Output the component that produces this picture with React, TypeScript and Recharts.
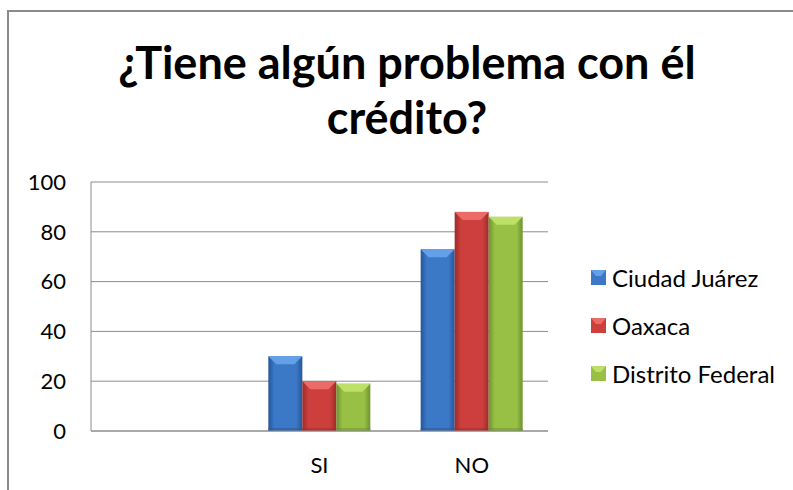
import { BarChart, Bar, XAxis, YAxis, CartesianGrid } from 'recharts'

const categories = ['', 'SI', 'NO']
const ciudadJuarez = [null, 30, 73]
const oaxaca = [null, 20, 88]
const distritoFederal = [null, 19, 86]
const yTicks = [0, 20, 40, 60, 80, 100]

const series = [
  { key: 'ciudadJuarez', name: 'Ciudad Juárez', base: '#3b78c6', dark: '#25569a', light: '#64a0ea' },
  { key: 'oaxaca', name: 'Oaxaca', base: '#cc3f3c', dark: '#9c2b29', light: '#ea6b68' },
  { key: 'distritoFederal', name: 'Distrito Federal', base: '#98c044', dark: '#6f9230', light: '#bde068' },
]

const data = categories.map((c, i) => ({
  name: c,
  ciudadJuarez: ciudadJuarez[i],
  oaxaca: oaxaca[i],
  distritoFederal: distritoFederal[i],
}))

const FONT = 'Lato, "Noto Sans", sans-serif'

const bevelShape = (s) => (props) => {
  const { x, y, width, height } = props
  if (!height || height <= 0) return null
  const b = Math.min(8, width / 4, height / 2)
  const id = 'g-' + s.key
  return (
    <g>
      <defs>
        <linearGradient id={id} x1="0" y1="0" x2="1" y2="0">
          <stop offset="0" stopColor={s.dark} />
          <stop offset="0.18" stopColor={s.base} />
          <stop offset="0.82" stopColor={s.base} />
          <stop offset="1" stopColor={s.dark} />
        </linearGradient>
      </defs>
      <rect x={x} y={y} width={width} height={height} fill={`url(#${id})`} />
      <polygon
        points={`${x},${y} ${x + width},${y} ${x + width - b},${y + b} ${x + b},${y + b}`}
        fill={s.light}
      />
      <rect x={x} y={y + height - 3} width={width} height={3} fill={s.dark} opacity={0.5} />
    </g>
  )
}

// legend drawn beside the chart so it does not shrink the plot
const ChartLegend = () => (
  <div
    style={{
      position: 'absolute',
      left: 591,
      top: 253,
      fontFamily: FONT,
      fontSize: 24,
      color: '#000',
    }}
  >
    {series.map((s) => (
      <div key={s.key} style={{ display: 'flex', alignItems: 'center', height: 48 }}>
        <svg width={15} height={15} style={{ marginRight: 6 }}>
          <rect x={0} y={0} width={15} height={15} fill={s.base} />
          <polygon points="0,0 15,0 10,6 5,6" fill={s.light} />
        </svg>
        <span>{s.name}</span>
      </div>
    ))}
  </div>
)

const titleStyle = {
  position: 'absolute' as const,
  left: 0,
  width: 814,
  textAlign: 'center' as const,
  fontFamily: FONT,
  fontWeight: 'bold' as const,
  fontSize: 45,
  lineHeight: '50px',
  color: '#000',
  whiteSpace: 'nowrap' as const,
}

export default function App() {
  return (
    <div style={{ position: 'absolute', left: 0, top: 0, width: 793, height: 490, overflow: 'hidden', background: '#fff' }}>
      <div
        style={{
          position: 'absolute',
          left: 7,
          top: 10,
          width: 820,
          height: 520,
          border: '2px solid #8a8a8a',
        }}
      />
      <div style={{ ...titleStyle, top: 37 }}>¿Tiene algún problema con él</div>
      <div style={{ ...titleStyle, top: 92 }}>crédito?</div>
      <div style={{ position: 'absolute', left: 0, top: 0 }}>
        <BarChart
          width={793}
          height={490}
          data={data}
          margin={{ top: 182, right: 245, bottom: 0, left: 0 }}
          barCategoryGap={25}
          barGap={0}
        >
          <CartesianGrid vertical={false} stroke="#8c8c8c" />
          <XAxis
            dataKey="name"
            height={59}
            stroke="#8c8c8c"
            tickLine={false}
            tickMargin={20}
            tick={{ fill: '#000', fontSize: 22, fontFamily: FONT }}
          />
          <YAxis
            width={91}
            domain={[0, 100]}
            ticks={yTicks}
            interval={0}
            stroke="#8c8c8c"
            tickLine={false}
            tickSize={0}
            tickMargin={25}
            tick={{ fill: '#000', fontSize: 22, fontFamily: FONT }}
          />
          {series.map((s) => (
            <Bar
              key={s.key}
              dataKey={s.key}
              name={s.name}
              fill={s.base}
              shape={bevelShape(s)}
              isAnimationActive={false}
            />
          ))}
        </BarChart>
      </div>
      <ChartLegend />
    </div>
  )
}
